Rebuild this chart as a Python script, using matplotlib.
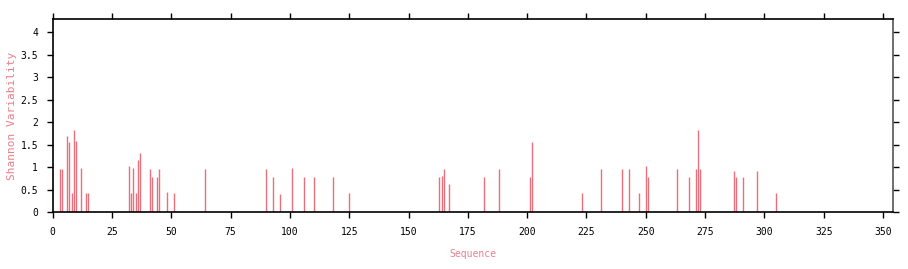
import matplotlib
matplotlib.use("Agg")
import matplotlib.pyplot as plt


# -----------------------------
# Data
# -----------------------------

positions = [3, 4, 6, 7, 8, 9, 10, 12, 14, 15,
             32, 33, 34, 35, 36, 37, 41, 42, 44, 45, 48, 51,
             64, 90, 93, 96, 101, 106, 110, 118, 125,
             163, 164, 165, 167, 182, 188, 201, 202,
             223, 231, 240, 243, 247, 250, 251, 263, 268, 271, 272, 273,
             287, 288, 291, 297, 305]

variability = [0.96, 0.96, 1.69, 1.56, 0.42, 1.83, 1.59, 0.98, 0.42, 0.42,
               1.02, 0.42, 0.98, 0.42, 1.16, 1.32, 0.96, 0.79, 0.79, 0.96, 0.44, 0.42,
               0.97, 0.97, 0.79, 0.41, 0.98, 0.79, 0.79, 0.79, 0.43,
               0.79, 0.80, 0.96, 0.62, 0.79, 0.97, 0.79, 1.57,
               0.42, 0.96, 0.97, 0.97, 0.43, 1.03, 0.79, 0.96, 0.79, 0.96, 1.84, 0.97,
               0.91, 0.79, 0.79, 0.92, 0.43]

x_ticks = list(range(0, 351, 25))
y_ticks = [0, 0.5, 1, 1.5, 2, 2.5, 3, 3.5, 4]
y_tick_labels = ["0", "0.5", "1", "1.5", "2", "2.5", "3", "3.5", "4"]


# -----------------------------
# Plot
# -----------------------------

bar_color = "#e8707c"
label_color = "#e8808c"

fig = plt.figure(figsize=(9.08, 2.69), dpi=100)
ax = fig.add_axes([0.058, 0.211, 0.925, 0.717])

ax.vlines(positions, 0, variability, color=bar_color, linewidth=1.0)

ax.set_xlim(0, 354)
ax.set_ylim(0, 4.29)

ax.set_xticks(x_ticks)
ax.set_xticklabels([str(t) for t in x_ticks], family="DejaVu Sans Mono", fontsize=7)
ax.set_yticks(y_ticks)
ax.set_yticklabels(y_tick_labels, family="DejaVu Sans Mono", fontsize=7)

ax.tick_params(axis="both", direction="out", length=4.5, width=1, pad=6,
               top=True, right=True)

for side in ["left", "bottom", "top"]:
    ax.spines[side].set_linewidth(1.2)
    ax.spines[side].set_color("black")
ax.spines["right"].set_linewidth(1.2)
ax.spines["right"].set_color("#555555")

ax.set_xlabel("Sequence", color=label_color, family="DejaVu Sans Mono", fontsize=7, labelpad=9)

# y label sits close to the left edge of the figure
fig.text(12 / 908, 0.57, "Shannon Variability", rotation=90, color=label_color,
         family="DejaVu Sans Mono", fontsize=8, ha="center", va="center")

fig.savefig("out.png", dpi=100)
